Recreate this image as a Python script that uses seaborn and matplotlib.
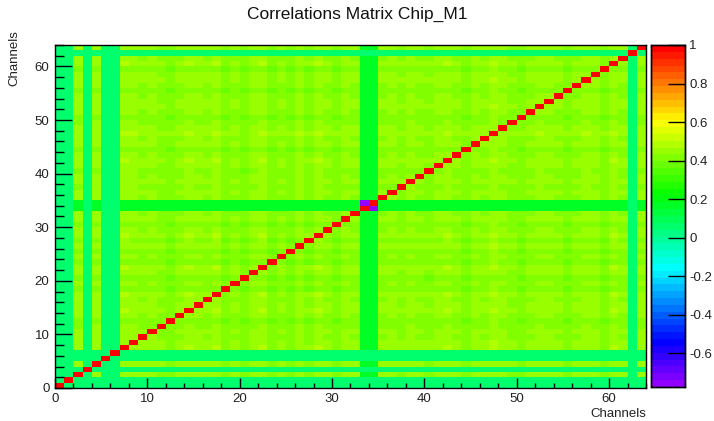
import colorsys
import numpy as np
import pandas as pd
import matplotlib
matplotlib.use("Agg")
import matplotlib.pyplot as plt
from matplotlib.colors import ListedColormap
import seaborn as sns

# ---- data -------------------------------------------------------------
n_channels = 64
channels = list(range(n_channels))

# typical correlation level of each channel with the ordinary channels
channel_level = [
    0.05, 0.06, 0.44, 0.06, 0.45, 0.05, 0.06, 0.47,   # 0-7
    0.46, 0.43, 0.44, 0.42, 0.39, 0.43, 0.47, 0.44,   # 8-15
    0.43, 0.47, 0.39, 0.43, 0.38, 0.44, 0.47, 0.39,   # 16-23
    0.43, 0.39, 0.46, 0.40, 0.47, 0.43, 0.39, 0.44,   # 24-31
    0.43, 0.17, 0.17, 0.43, 0.44, 0.42, 0.45, 0.43,   # 32-39
    0.41, 0.44, 0.47, 0.43, 0.39, 0.44, 0.43, 0.48,   # 40-47
    0.44, 0.42, 0.39, 0.43, 0.46, 0.44, 0.43, 0.39,   # 48-55
    0.43, 0.46, 0.44, 0.39, 0.47, 0.43, 0.05, 0.44,   # 56-63
]
# channels whose correlation with everything is weak
weak_channels = [0, 1, 3, 5, 6, 33, 34, 62]
# the anti-correlated neighbouring pair
anti_pair = (33, 34)
anti_value = -0.774

z_min, z_max = anti_value, 1.0
cbar_ticks = [-0.6, -0.4, -0.2, 0.0, 0.2, 0.4, 0.6, 0.8, 1.0]
axis_ticks = [0, 10, 20, 30, 40, 50, 60]

# ---- correlation matrix ----------------------------------------------
lvl = np.array(channel_level)
weak = np.isin(np.arange(n_channels), weak_channels)
pair_mean = (lvl[:, None] + lvl[None, :]) / 2.0
pair_min = np.minimum(lvl[:, None], lvl[None, :])
corr = np.where(weak[:, None] | weak[None, :], pair_min, pair_mean)
np.fill_diagonal(corr, 1.0)
a, b = anti_pair
corr[a, b] = corr[b, a] = anti_value
df = pd.DataFrame(corr, index=channels, columns=channels)

# violet-to-red "pretty" palette with 50 hues
n_col = 50
palette = [colorsys.hls_to_rgb((280 - (i + 1) * 280 / n_col) / 360.0, 0.5, 1.0)
           for i in range(n_col)]
cmap = ListedColormap(palette)

# ---- figure -------------------------------------------------------------
sns.set_theme(style="white")
plt.rcParams["font.family"] = ["Liberation Sans", "DejaVu Sans"]
plt.rcParams["axes.unicode_minus"] = False

W, H = 714, 421
fig = plt.figure(figsize=(W / 100, H / 100), dpi=100)
fig.patch.set_facecolor("white")

ax = fig.add_axes([55 / W, 1 - 388 / H, 591 / W, 343 / H])
cax = fig.add_axes([651 / W, 1 - 387 / H, 34 / W, 342 / H])

sns.heatmap(df, ax=ax, cmap=cmap, vmin=z_min, vmax=z_max,
            cbar_ax=cax, square=False, xticklabels=False, yticklabels=False,
            linewidths=0)

ax.set_xlim(0, n_channels)
ax.set_ylim(0, n_channels)
ax.set_xlabel("")
ax.set_ylabel("")
ax.set_axisbelow(False)
cax.set_axisbelow(False)

for side in ("left", "bottom", "right", "top"):
    ax.spines[side].set_visible(True)
    ax.spines[side].set_color("black")
    ax.spines[side].set_linewidth(1.0)
    ax.spines[side].set_zorder(5)

ax.set_xticks(axis_ticks)
ax.set_yticks(axis_ticks)
ax.set_xticklabels([str(t) for t in axis_ticks])
ax.set_yticklabels([str(t) for t in axis_ticks], rotation=0)
ax.set_xticks(range(0, n_channels + 1, 2), minor=True)
ax.set_yticks(range(0, n_channels + 1, 2), minor=True)

ax.tick_params(axis="both", which="both", direction="in", colors="black",
               labelsize=9.5, width=1.0, bottom=True, left=True, top=False, right=False)
ax.tick_params(axis="x", which="major", length=7.2, pad=3.5)
ax.tick_params(axis="x", which="minor", length=3.6)
ax.tick_params(axis="y", which="major", length=12.2, pad=4)
ax.tick_params(axis="y", which="minor", length=6.2)
for lab in ax.get_xticklabels() + ax.get_yticklabels():
    lab.set_color("#222222")

# colour scale
cax.set_yticks(cbar_ticks)
cax.set_yticklabels([f"{t:g}" for t in cbar_ticks])
cax.tick_params(axis="y", which="both", direction="in", length=12.2, width=1.0,
                labelsize=9.5, pad=3, right=True, left=False, colors="black")
cax.yaxis.set_ticks_position("right")
for lab in cax.get_yticklabels():
    lab.set_color("#222222")
for sp in cax.spines.values():
    sp.set_visible(True)
    sp.set_color("black")
    sp.set_linewidth(1.0)
    sp.set_zorder(5)

# titles
fig.text(0.5, 1 - 14 / H, "Correlations Matrix Chip_M1", ha="center", va="center",
         fontsize=12.5, color="#111111")
fig.text(646 / W, 1 - 414 / H, "Channels", ha="right", va="center",
         fontsize=9.5, color="#222222")
fig.text(14 / W, 1 - 30 / H, "Channels", ha="center", va="top", rotation=90,
         fontsize=9.5, color="#222222")

fig.savefig("out.png", dpi=100, facecolor="white")
